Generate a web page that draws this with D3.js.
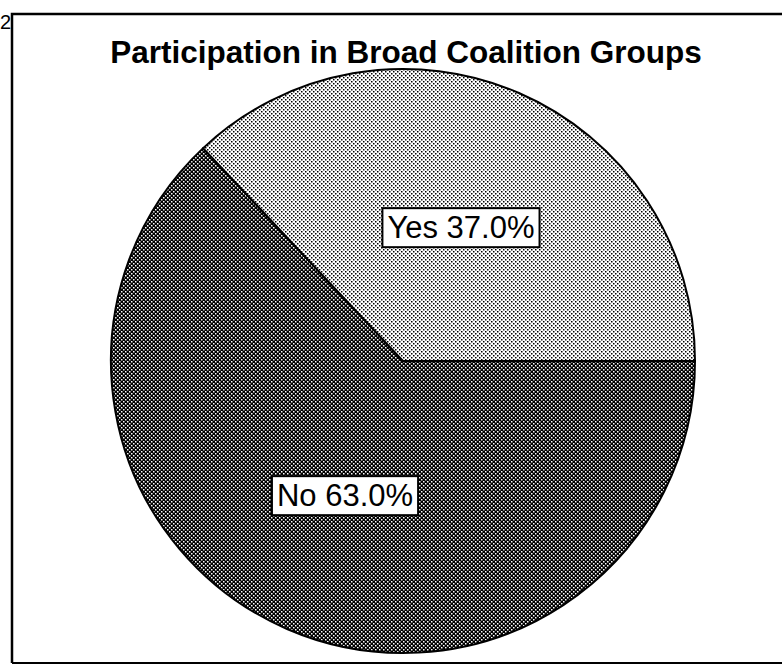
<!DOCTYPE html>
<html>
<head>
<meta charset="utf-8">
<script src="https://cdn.jsdelivr.net/npm/d3@7"></script>
<style>
  body { margin: 0; background: #fff; overflow: hidden; }
  svg { display: block; overflow: hidden; }
  text { font-family: "Liberation Sans", Arial, sans-serif; }
</style>
</head>
<body>
<script>
  // slice data
  var categories = ["No", "Yes"];
  var shares = [63.0, 37.0];
  var patterns = ["dark", "light"];

  var width = 782, height = 665;
  var cx = 403, cy = 361, radius = 292;

  var svg = d3.select("body").append("svg")
      .attr("width", width)
      .attr("height", height);

  var defs = svg.append("defs");

  // dotted screens like the scanned original
  var light = defs.append("pattern")
      .attr("id", "light")
      .attr("patternUnits", "userSpaceOnUse")
      .attr("width", 4).attr("height", 4);
  light.append("rect").attr("width", 4).attr("height", 4).attr("fill", "#fff");
  light.append("rect").attr("x", 0).attr("y", 0).attr("width", 1.5).attr("height", 1.5).attr("fill", "#000");
  light.append("rect").attr("x", 2).attr("y", 2).attr("width", 1.5).attr("height", 1.5).attr("fill", "#000");

  var dark = defs.append("pattern")
      .attr("id", "dark")
      .attr("patternUnits", "userSpaceOnUse")
      .attr("width", 4).attr("height", 4);
  dark.append("rect").attr("width", 4).attr("height", 4).attr("fill", "#000");
  dark.append("rect").attr("x", 0).attr("y", 0).attr("width", 1.5).attr("height", 1.5).attr("fill", "#fff");
  dark.append("rect").attr("x", 2).attr("y", 2).attr("width", 1.5).attr("height", 1.5).attr("fill", "#fff");

  // frame (right side runs off the page)
  svg.append("path")
      .attr("d", "M12,663 L12,14 L782,14")
      .attr("fill", "none")
      .attr("stroke", "#000")
      .attr("stroke-width", 2.5);
  svg.append("line")
      .attr("x1", 12).attr("x2", 782)
      .attr("y1", 663).attr("y2", 663)
      .attr("stroke", "#000")
      .attr("stroke-width", 2);

  svg.append("text")
      .attr("x", 0).attr("y", 29)
      .attr("font-size", 20)
      .text("2");

  svg.append("text")
      .attr("x", 406).attr("y", 63)
      .attr("text-anchor", "middle")
      .attr("font-size", 31.5)
      .attr("font-weight", "bold")
      .text("Participation in Broad Coalition Groups");

  var pie = d3.pie()
      .sort(null)
      .value(function(d) { return d; })
      .startAngle(Math.PI / 2)
      .endAngle(Math.PI / 2 + 2 * Math.PI);

  var arc = d3.arc().innerRadius(0).outerRadius(radius);
  var labelArc = d3.arc().innerRadius(radius * 0.5).outerRadius(radius * 0.5);

  var g = svg.append("g").attr("transform", "translate(" + cx + "," + cy + ")");

  var arcs = pie(shares);

  g.selectAll("path.slice")
      .data(arcs)
    .enter().append("path")
      .attr("class", "slice")
      .attr("d", arc)
      .attr("fill", function(d, i) { return "url(#" + patterns[i] + ")"; })
      .attr("stroke", "#000")
      .attr("stroke-width", 2);

  var labels = g.selectAll("g.label")
      .data(arcs)
    .enter().append("g")
      .attr("class", "label")
      .attr("transform", function(d) { return "translate(" + labelArc.centroid(d) + ")"; });

  labels.append("text")
      .attr("text-anchor", "middle")
      .attr("dy", "0.36em")
      .attr("font-size", 31)
      .text(function(d, i) { return categories[i] + " " + shares[i].toFixed(1) + "%"; })
      .each(function() {
        var b = this.getBBox();
        d3.select(this.parentNode).insert("rect", "text")
            .attr("x", b.x - 5).attr("y", b.y - 2)
            .attr("width", b.width + 10).attr("height", b.height + 4)
            .attr("fill", "#fff")
            .attr("stroke", "#000")
            .attr("stroke-width", 2);
      });
</script>
</body>
</html>
